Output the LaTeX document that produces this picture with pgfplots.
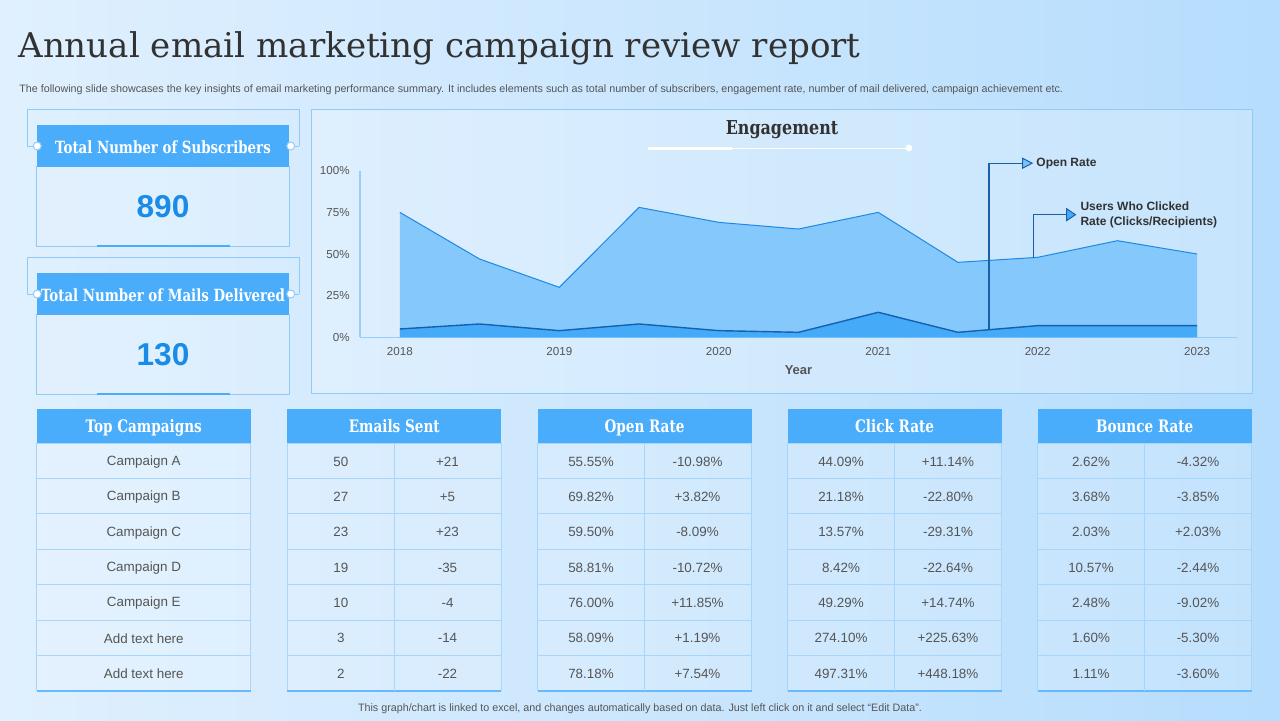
\documentclass[border=0pt]{standalone}
\usepackage{fontspec}
\usepackage{pgfplots}
\usepackage{pgfplotstable}
\pgfplotsset{compat=1.18}
\newfontfamily\arial{Liberation Sans}
\newfontfamily\dserif{DejaVu Serif}
\definecolor{hdr}{RGB}{74,173,251}
\definecolor{bgL}{RGB}{224,240,254}
\definecolor{bgR}{RGB}{182,221,253}
\definecolor{frame}{RGB}{144,202,249}
\definecolor{cellline}{RGB}{168,214,251}
\definecolor{txt}{RGB}{85,85,85}
\definecolor{ttl}{RGB}{50,50,50}
\definecolor{openfill}{RGB}{133,200,251}
\definecolor{openline}{RGB}{30,136,229}
\definecolor{clickfill}{RGB}{69,170,248}
\definecolor{clickline}{RGB}{21,96,175}
\definecolor{numblue}{RGB}{26,140,232}
\definecolor{anncol}{RGB}{25,95,170}
\definecolor{axcol}{RGB}{150,205,250}
\pgfplotstableread{
year open click
2018 75 5
2018.5 47 8
2019 30 4
2019.5 78 8
2020 69 4
2020.5 65 3
2021 75 15
2021.5 45 3
2022 48 7
2022.5 58 7
2023 50 7
}\engdata
\newcommand\hdrfont{\dserif\bfseries\fontsize{8.6}{10}\selectfont}
\newcommand\cellfont{\arial\fontsize{6.7}{8}\selectfont}
\newcommand\tablebox[2]{%
  \fill[hdr] (#1,408.5) rectangle ++(214,34.8);
  \fill[white,opacity=0.18] (#1,443.3) rectangle ++(214,247.4);
  \draw[cellline,line width=0.5pt] (#1,443.3) rectangle ++(214,247.4);
  \foreach \k in {1,...,6} \draw[cellline,line width=0.5pt] (#1,443.3+35.34*\k) -- ++(214,0);
  \draw[hdr!85,line width=1pt] (#1,690.7) -- ++(214,0);
  \node[white,font=\hdrfont,anchor=base,inner sep=0pt] at (#1+107,432.5) {\scalebox{0.79}[1]{#2}};
}
\begin{document}
\begin{tikzpicture}
\begin{scope}[x=0.5pt,y=-0.5pt]
\useasboundingbox (0,0) rectangle (1280,720);
\shade[left color=bgL,right color=bgR] (0,0) rectangle (1280,720);
% title
\node[anchor=base west,inner sep=0pt,text=ttl,font=\dserif\fontsize{17.05}{20}\selectfont] at (18,57) {Annual email marketing campaign review report};
\node[anchor=base west,inner sep=0pt,text=txt,font=\arial\fontsize{5.37}{6.5}\selectfont] at (19,92) {The following slide showcases the key insights of email marketing performance summary. It includes elements such as total number of subscribers, engagement rate, number of mail delivered, campaign achievement etc.};
% left boxes
\foreach \dy/\lab/\num in {0/Total Number of Subscribers/890, 148/Total Number of Mails Delivered/130}{
  \draw[frame,line width=0.5pt] (27.3,146+\dy) -- (27.3,109.7+\dy) -- (299.3,109.7+\dy) -- (299.3,146+\dy);
  \draw[frame,line width=0.5pt] (27.3,146+\dy) -- (37.3,146+\dy) (290.7,146+\dy) -- (299.3,146+\dy);
  \fill[white,opacity=0.12] (36.7,166.7+\dy) rectangle (289.3,246+\dy);
  \draw[frame,line width=0.5pt] (36.7,166.7+\dy) rectangle (289.3,246+\dy);
  \fill[hdr] (36.7,125+\dy) rectangle (289.3,166.7+\dy);
  \draw[hdr,line width=1pt] (97.3,246+\dy) -- (230,246+\dy);
  \node[white,font=\dserif\bfseries\fontsize{8.4}{9}\selectfont,anchor=base,inner sep=0pt] at (163,153+\dy) {\scalebox{0.795}[1]{\lab}};
  \draw[frame,fill=white,line width=0.5pt] (37.3,146+\dy) circle (2pt);
  \draw[frame,fill=white,line width=0.5pt] (290.7,146+\dy) circle (2pt);
  \node[numblue,font=\arial\bfseries\fontsize{15.8}{18}\selectfont] at (163,207+\dy) {\num};
}
% chart panel
\fill[white,opacity=0.22] (311.7,109.7) rectangle (1252.3,393.7);
\draw[frame,line width=0.6pt] (311.7,109.7) rectangle (1252.3,393.7);
\node[ttl,font=\dserif\bfseries\fontsize{9.6}{11}\selectfont,anchor=base,inner sep=0pt] at (782,134.5) {\scalebox{0.83}[1]{Engagement}};
\draw[white,line width=1.5pt] (648,148) -- (732,148);
\draw[white,line width=0.4pt] (732,148) -- (909,148);
\fill[white] (909,148) circle (1.7pt);
% tables
\tablebox{36.7}{Top Campaigns}
\tablebox{287.3}{Emails Sent}
\tablebox{537.5}{Open Rate}
\tablebox{787.6}{Click Rate}
\tablebox{1037.7}{Bounce Rate}
\foreach \x in {394,644.5,894.6,1144.7} \draw[cellline,line width=0.5pt] (\x,443.3) -- (\x,690.7);
\foreach \t [count=\k] in {Campaign A,Campaign B,Campaign C,Campaign D,Campaign E,Add text here,Add text here}
  \node[txt,font=\cellfont] at (143.8,426.8+35.34*\k) {\t};
\foreach \a/\b [count=\k] in {50/+21,27/+5,23/+23,19/-35,10/-4,3/-14,2/-22}{
  \node[txt,font=\cellfont] at (340.8,426.3+35.34*\k) {\a};
  \node[txt,font=\cellfont] at (447.5,426.3+35.34*\k) {\b};}
\foreach \a/\b [count=\k] in {55.55\%/-10.98\%,69.82\%/+3.82\%,59.50\%/-8.09\%,58.81\%/-10.72\%,76.00\%/+11.85\%,58.09\%/+1.19\%,78.18\%/+7.54\%}{
  \node[txt,font=\cellfont] at (591,426.3+35.34*\k) {\a};
  \node[txt,font=\cellfont] at (697.5,426.3+35.34*\k) {\b};}
\foreach \a/\b [count=\k] in {44.09\%/+11.14\%,21.18\%/-22.80\%,13.57\%/-29.31\%,8.42\%/-22.64\%,49.29\%/+14.74\%,274.10\%/+225.63\%,497.31\%/+448.18\%}{
  \node[txt,font=\cellfont] at (841,426.3+35.34*\k) {\a};
  \node[txt,font=\cellfont] at (948,426.3+35.34*\k) {\b};}
\foreach \a/\b [count=\k] in {2.62\%/-4.32\%,3.68\%/-3.85\%,2.03\%/+2.03\%,10.57\%/-2.44\%,2.48\%/-9.02\%,1.60\%/-5.30\%,1.11\%/-3.60\%}{
  \node[txt,font=\cellfont] at (1091,426.3+35.34*\k) {\a};
  \node[txt,font=\cellfont] at (1198,426.3+35.34*\k) {\b};}
\node[anchor=base,inner sep=0pt,text=txt,font=\arial\fontsize{5.37}{6.5}\selectfont] at (640,711) {This graph/chart is linked to excel, and changes automatically based on data. Just left click on it and select “Edit Data”.};
\end{scope}
\begin{axis}[at={(180pt,-168.65pt)},anchor=south west,scale only axis,
  width=438.5pt,height=83.3pt,
  xmin=2017.75,xmax=2023.25,ymin=0,ymax=100,
  axis lines*=left,axis line style={axcol,line width=0.6pt},
  major tick length=0pt,
  xtick={2018,2019,2020,2021,2022,2023},
  xticklabels={2018,2019,2020,2021,2022,2023},
  ytick={0,25,50,75,100},
  yticklabels={0\%,25\%,50\%,75\%,100\%},
  /pgf/number format/assume math mode=true,
  ticklabel style={font=\arial\fontsize{5.8}{7}\selectfont,text=txt},
  yticklabel style={anchor=east,inner sep=0pt,xshift=-5pt},
  xticklabel style={anchor=north,inner sep=0pt,yshift=-4.9pt},
  xlabel={Year},
  xlabel style={at={(axis description cs:0.5,0)},anchor=center,yshift=-16.4pt,font=\arial\bfseries\fontsize{6.5}{8}\selectfont,text=txt},
  clip=false]
\addplot[draw=none,fill=openfill] table[x=year,y=open] {\engdata} \closedcycle;
\addplot[openline,line width=0.5pt] table[x=year,y=open] {\engdata};
\addplot[draw=none,fill=clickfill] table[x=year,y=click] {\engdata} \closedcycle;
\addplot[clickline,line width=0.7pt] table[x=year,y=click] {\engdata};
\draw[anncol,line width=0.6pt] (axis cs:2021.695,4.2) |- (axis cs:2021.905,104.5);
\draw[anncol,fill=openfill!80!hdr,line width=0.5pt] (axis cs:2021.905,107.5) -- (axis cs:2021.965,104.5) -- (axis cs:2021.905,101.5) -- cycle;
\node[anchor=west,inner sep=0pt,text=ttl,font=\arial\bfseries\fontsize{6}{7}\selectfont] at (axis cs:2021.99,104.5) {Open Rate};
\draw[anncol,line width=0.6pt] (axis cs:2021.973,47.6) |- (axis cs:2022.181,73.6);
\draw[anncol,fill=clickfill,line width=0.5pt] (axis cs:2022.181,77.2) -- (axis cs:2022.237,73.6) -- (axis cs:2022.181,70) -- cycle;
\node[anchor=west,inner sep=0pt,align=left,text=ttl,font=\arial\bfseries\fontsize{6}{7.3}\selectfont] at (axis cs:2022.266,73.6) {Users Who Clicked\\Rate (Clicks/Recipients)};
\end{axis}
\end{tikzpicture}
\end{document}
